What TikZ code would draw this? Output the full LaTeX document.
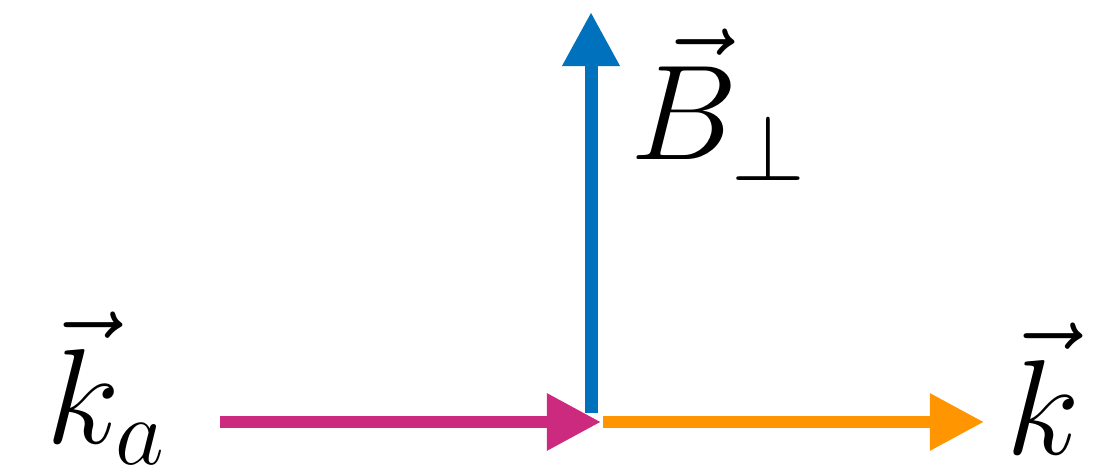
\RequirePackage{fix-cm}
\documentclass[tikz,border=0pt]{standalone}
\usepackage{tikz}
\usetikzlibrary{arrows.meta,positioning}
\usepackage{amsmath,amssymb}
\definecolor{fieldblue}{HTML}{0072BD}
\definecolor{axionpink}{HTML}{CC2A7E}
\definecolor{photonorange}{HTML}{FF9500}

\begin{document}
\begin{tikzpicture}[x=0.01cm, y=0.01cm,
  vec/.style={-{Triangle[length=0.54cm, width=0.54cm]}, line width=0.12cm, draw=#1},
  lbl/.style={inner sep=0pt, anchor=base west, font=\fontsize{38.5}{46}\selectfont}
]
  \useasboundingbox (0,0) rectangle (1097,465);

  % vertices of the conversion
  \coordinate (mid) at (591,43);
  \coordinate (ka0) at (220,43);
  \coordinate (ka1) at (601,43);
  \coordinate (k0) at (603,43);
  \coordinate (k1) at (984,43);
  \coordinate (B0) at (591,52);
  \coordinate (B1) at (591,453);

  \node[lbl] (lka) at (46,21) {$\vec{k}_a$};
  \node[lbl] (lk) at (1006,10) {$\vec{k}$};
  \node[lbl] (lB) at (630,305) {$\vec{B}_\perp$};

  \draw[vec=fieldblue, line width=0.13cm] (B0) -- (B1);
  \draw[vec=photonorange] (k0) -- (k1);
  \draw[vec=axionpink] (ka0) -- (ka1);
\end{tikzpicture}
\end{document}
